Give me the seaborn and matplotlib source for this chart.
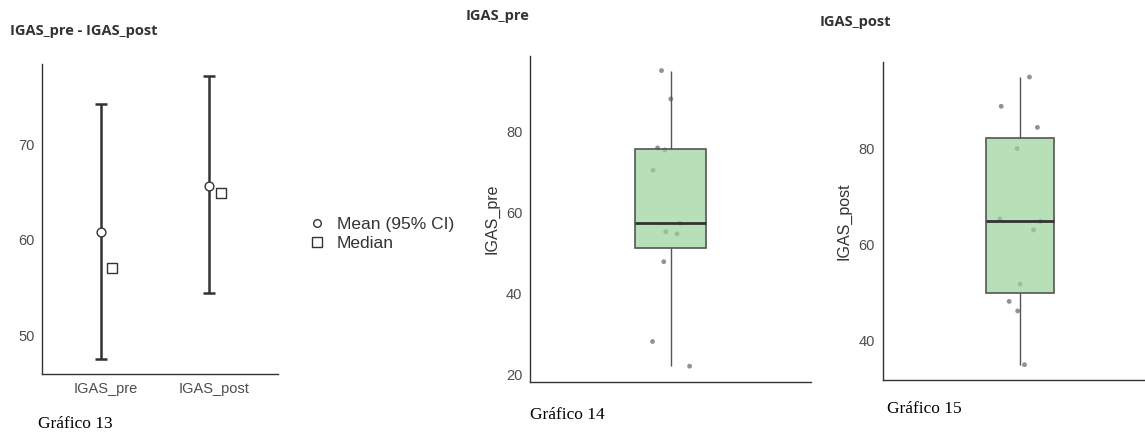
import numpy as np
import pandas as pd
import matplotlib
matplotlib.use("Agg")
import matplotlib.pyplot as plt
from matplotlib.lines import Line2D
import seaborn as sns

# ---------------- data ----------------
groups = ["IGAS_pre", "IGAS_post"]
means = [60.8, 65.7]
ci_low = [47.5, 54.4]
ci_high = [74.3, 77.2]
medians = [57.0, 64.9]

igas_pre = [95.0, 88.0, 75.9, 75.4, 70.4, 57.3, 55.2, 54.7, 47.8, 28.1, 22.0]
pre_jitter = [-0.032, 0.001, -0.046, -0.020, -0.062, 0.033, -0.017, 0.023, -0.024, -0.064, 0.068]
igas_post = [95.0, 88.9, 84.5, 80.1, 65.4, 64.9, 63.1, 51.8, 48.2, 46.2, 35.0]
post_jitter = [0.035, -0.068, 0.064, -0.010, -0.073, 0.075, 0.050, 0.001, -0.039, -0.008, 0.017]

pre_ticks = [20, 40, 60, 80]
post_ticks = [40, 60, 80]
summary_ticks = [50, 60, 70]

# ---------------- style ----------------
sns.set_style("white")
plt.rcParams["font.family"] = ["Liberation Sans", "DejaVu Sans"]

W, H = 1145, 432
fig = plt.figure(figsize=(W / 100, H / 100), dpi=100)

DARK = "#333333"
TICKC = "#4d4d4d"


def px_axes(x0, y0, x1, y1):
    return fig.add_axes([x0 / W, 1 - y1 / H, (x1 - x0) / W, (y1 - y0) / H])


def style_axes(ax):
    sns.despine(ax=ax)
    for s in ("left", "bottom"):
        ax.spines[s].set_color(DARK)
        ax.spines[s].set_linewidth(1.0)
    ax.tick_params(axis="both", direction="out", length=3.5, width=1.0,
                   color=DARK, labelcolor=TICKC, labelsize=10.5, pad=2)


# ---------------- panel 1: mean (95% CI) and median ----------------
ax1 = px_axes(42, 64, 278, 374)
xpos = np.arange(len(groups))
summary = pd.DataFrame({"x": xpos, "mean": means, "lo": ci_low,
                        "hi": ci_high, "median": medians})
ax1.errorbar(summary["x"] - 0.045, summary["mean"],
             yerr=[summary["mean"] - summary["lo"], summary["hi"] - summary["mean"]],
             fmt="none", ecolor=DARK, elinewidth=1.8, capsize=4, capthick=1.8, zorder=2)
sns.scatterplot(x=summary["x"] - 0.045, y=summary["mean"], ax=ax1, marker="o",
                s=40, color="white", edgecolor=DARK, linewidth=1.0, zorder=3)
sns.scatterplot(x=summary["x"] + 0.06, y=summary["median"], ax=ax1, marker="s",
                s=45, color="white", edgecolor=DARK, linewidth=1.0, zorder=3)
ax1.set_xlim(-0.59, 1.59)
ax1.set_ylim(45.9, 78.5)
ax1.set_xticks(xpos)
ax1.set_xticklabels(groups)
ax1.set_yticks(summary_ticks)
ax1.set_xlabel("")
ax1.set_ylabel("")
style_axes(ax1)

handles = [
    Line2D([], [], marker="o", linestyle="none", markersize=5.5,
           markerfacecolor="white", markeredgecolor=DARK, markeredgewidth=1.0),
    Line2D([], [], marker="s", linestyle="none", markersize=6.5,
           markerfacecolor="white", markeredgecolor=DARK, markeredgewidth=1.0),
]
fig.legend(handles, ["Mean (95% CI)", "Median"], loc="center left",
           bbox_to_anchor=(301 / W, 1 - 234 / H), frameon=False, fontsize=12.5,
           handlelength=0.8, handletextpad=0.75, labelspacing=0.25, borderpad=0,
           labelcolor=DARK)

# ---------------- box panels ----------------
BOX_FACE = (0.602, 0.826, 0.602, 0.7)


def box_panel(ax, values, jitter, label, ticks, ylim):
    df = pd.DataFrame({"x": jitter, "y": values})
    sns.scatterplot(data=df, x="x", y="y", ax=ax, color="#6e6e6e", alpha=0.75,
                    s=12, edgecolor="none", zorder=1)
    sns.boxplot(y=values, ax=ax, width=0.25, whis=1.5, showfliers=False,
                boxprops=dict(facecolor=BOX_FACE, edgecolor="#555555", linewidth=1.2, zorder=2),
                whiskerprops=dict(color="#555555", linewidth=1.0),
                capprops=dict(linewidth=0),
                medianprops=dict(color=DARK, linewidth=2.0))
    ax.set_xlim(-0.5, 0.5)
    ax.set_ylim(*ylim)
    ax.set_yticks(ticks)
    ax.set_xticks([])
    ax.set_xlabel("")
    ax.set_ylabel(label, fontsize=11.5, color=DARK, labelpad=5)
    style_axes(ax)


ax2 = px_axes(530, 56, 811, 382)
box_panel(ax2, igas_pre, pre_jitter, "IGAS_pre", pre_ticks, (18.1, 98.6))

ax3 = px_axes(882.7, 61.7, 1157, 380)
box_panel(ax3, igas_post, post_jitter, "IGAS_post", post_ticks, (31.8, 98.2))

# ---------------- titles & captions ----------------
title_kw = dict(fontsize=10.5, fontweight="bold", color=DARK,
                family=["Open Sans", "DejaVu Sans"], va="baseline", ha="left")
fig.text(10 / W, 1 - 35 / H, "IGAS_pre - IGAS_post", **title_kw)
fig.text(466 / W, 1 - 20 / H, "IGAS_pre", **title_kw)
fig.text(820 / W, 1 - 26 / H, "IGAS_post", **title_kw)

cap_kw = dict(fontsize=12.5, color="black", family=["Liberation Serif", "DejaVu Serif"],
              va="baseline", ha="left")
fig.text(38 / W, 1 - 428 / H, "Gráfico 13", **cap_kw)
fig.text(530 / W, 1 - 419 / H, "Gráfico 14", **cap_kw)
fig.text(887 / W, 1 - 413 / H, "Gráfico 15", **cap_kw)

fig.savefig("out.png", dpi=100)
